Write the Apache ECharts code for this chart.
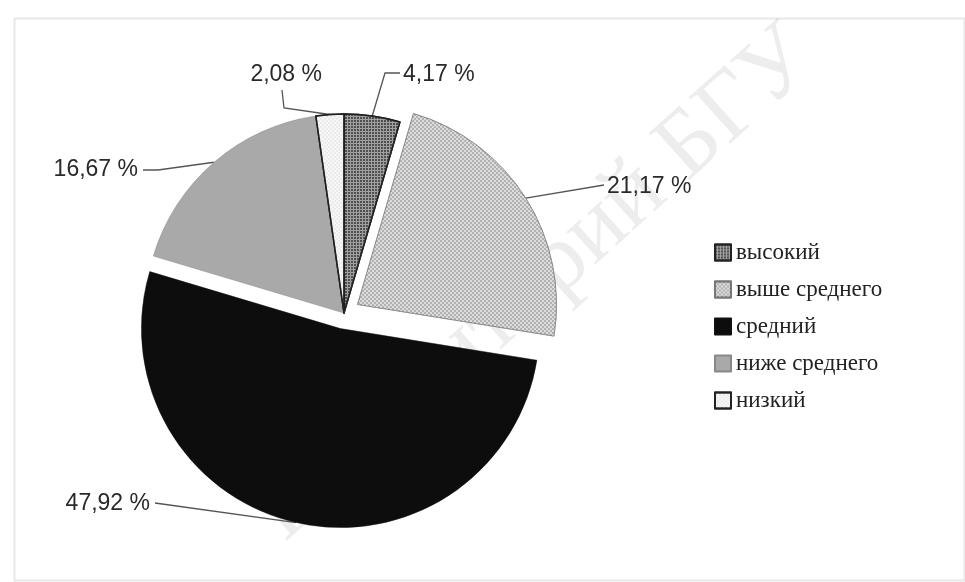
<!DOCTYPE html>
<html>
<head>
<meta charset="utf-8">
<script src="https://cdn.jsdelivr.net/npm/echarts@6/dist/echarts.min.js"></script>
<style>
html,body{margin:0;padding:0;background:#fff;}
#chart{width:965px;height:582px;}
</style>
</head>
<body>
<div id="chart"></div>
<script>
// Data
const categories = ['высокий', 'выше среднего', 'средний', 'ниже среднего', 'низкий'];
const values = [4.17, 21.17, 47.92, 16.67, 2.08];
const exploded = [false, true, true, false, false];

// styles
const fills = ['#a0a0a0', '#b2b2b2', '#0d0d0d', '#a9a9a9', '#f7f7f7'];
const decals = [
  { symbol: 'rect', symbolSize: 1, dashArrayX: [2, 1], dashArrayY: [2, 1], color: '#505050' },
  { symbol: 'circle', symbolSize: 0.9, dashArrayX: [[2, 2], [0, 2, 2, 0]], dashArrayY: [2, 0], color: '#f0f0f0' },
  null,
  null,
  { symbol: 'circle', symbolSize: 0.7, dashArrayX: [[2, 2], [0, 2, 2, 0]], dashArrayY: [2, 0], color: '#d6d6d6' }
];
const borders = [['#222', 1.5], ['#777', 0.6], ['#111', 0.5], ['#888', 0.5], ['#222', 1.5]];

// label placement: anchor point, alignment, leader-line bend / end
const labelPlace = [
  { x: 403, y: 75, align: 'left', elbow: [385, 73], end: [400, 73] },
  { x: 607, y: 187, align: 'left', elbow: null, end: [604, 185] },
  { x: 150, y: 504, align: 'right', elbow: null, end: [155, 503] },
  { x: 138, y: 170, align: 'right', elbow: [158, 170], end: [143, 170] },
  { x: 322, y: 75, align: 'right', elbow: [284, 108], end: [282, 90] }
];

const CENTER = [344, 313];
const RADIUS = 199;
const OFFSET = 16;

const total = values.reduce((a, b) => a + b, 0);

function labelLayout(params) {
  const lp = labelPlace[params.dataIndex];
  const p0 = params.labelLinePoints ? params.labelLinePoints[0] : [lp.x, lp.y];
  const pts = [p0];
  if (lp.elbow) pts.push(lp.elbow);
  pts.push(lp.end);
  return { x: lp.x, y: lp.y, align: lp.align, verticalAlign: 'middle', labelLinePoints: pts };
}

// build one pie layer; visibleIdx = list of data indices drawn by this layer
function pieLayer(visibleIdx, center) {
  return {
    type: 'pie',
    center: center,
    radius: RADIUS,
    startAngle: 90,
    clockwise: true,
    avoidLabelOverlap: false,
    emphasis: { disabled: true },
    silent: true,
    label: {
      show: true,
      position: 'outside',
      formatter: p => String(p.value).replace('.', ',') + ' %',
      fontFamily: '"Liberation Sans", "Open Sans", sans-serif',
      fontSize: 23,
      color: '#2a2a2a'
    },
    labelLine: { show: true, length: 10, length2: 10, lineStyle: { color: '#555', width: 1.3 } },
    labelLayout: labelLayout,
    data: categories.map((name, i) => {
      const vis = visibleIdx.indexOf(i) >= 0;
      if (!vis) {
        return {
          name: '\u200b' + i,
          value: values[i],
          itemStyle: { color: 'rgba(0,0,0,0)', borderWidth: 0 },
          label: { show: false },
          labelLine: { show: false }
        };
      }
      return {
        name: name,
        value: values[i],
        itemStyle: {
          color: fills[i],
          borderColor: borders[i][0],
          borderWidth: borders[i][1],
          decal: decals[i] || undefined
        }
      };
    })
  };
}

// offset centre of an exploded slice along its mid-angle
function explodedCenter(i) {
  let before = 0;
  for (let k = 0; k < i; k++) before += values[k];
  const midFrac = (before + values[i] / 2) / total;
  const ang = midFrac * 2 * Math.PI; // clockwise from 12 o'clock
  return [CENTER[0] + OFFSET * Math.sin(ang), CENTER[1] - OFFSET * Math.cos(ang)];
}

const series = [];
const baseIdx = categories.map((_, i) => i).filter(i => !exploded[i]);
series.push(pieLayer(baseIdx, CENTER));
categories.forEach((_, i) => { if (exploded[i]) series.push(pieLayer([i], explodedCenter(i))); });

const chart = echarts.init(document.getElementById('chart'));
chart.setOption({
  backgroundColor: '#ffffff',
  animation: false,
  graphic: [
    {
      type: 'rect', left: 12, top: 16, z: -10,
      shape: { width: 950, height: 562 },
      style: { fill: 'none', stroke: '#e8e8e8', lineWidth: 2 }
    },
    {
      type: 'text', z: -5, x: 535, y: 285, rotation: Math.PI / 4.3,
      style: {
        text: 'Репозиторий БГУ', fill: 'rgba(0,0,0,0.07)',
        font: '95px "Liberation Serif", serif',
        align: 'center', verticalAlign: 'middle'
      }
    }
  ],
  legend: {
    orient: 'vertical',
    left: 709,
    top: 236,
    itemWidth: 16,
    itemHeight: 16,
    itemGap: 14,
    icon: 'rect',
    selectedMode: false,
    textStyle: {
      fontFamily: '"Liberation Serif", "DejaVu Serif", serif',
      fontSize: 23,
      lineHeight: 16,
      color: '#222'
    },
    data: categories
  },
  series: series
});
</script>
</body>
</html>
